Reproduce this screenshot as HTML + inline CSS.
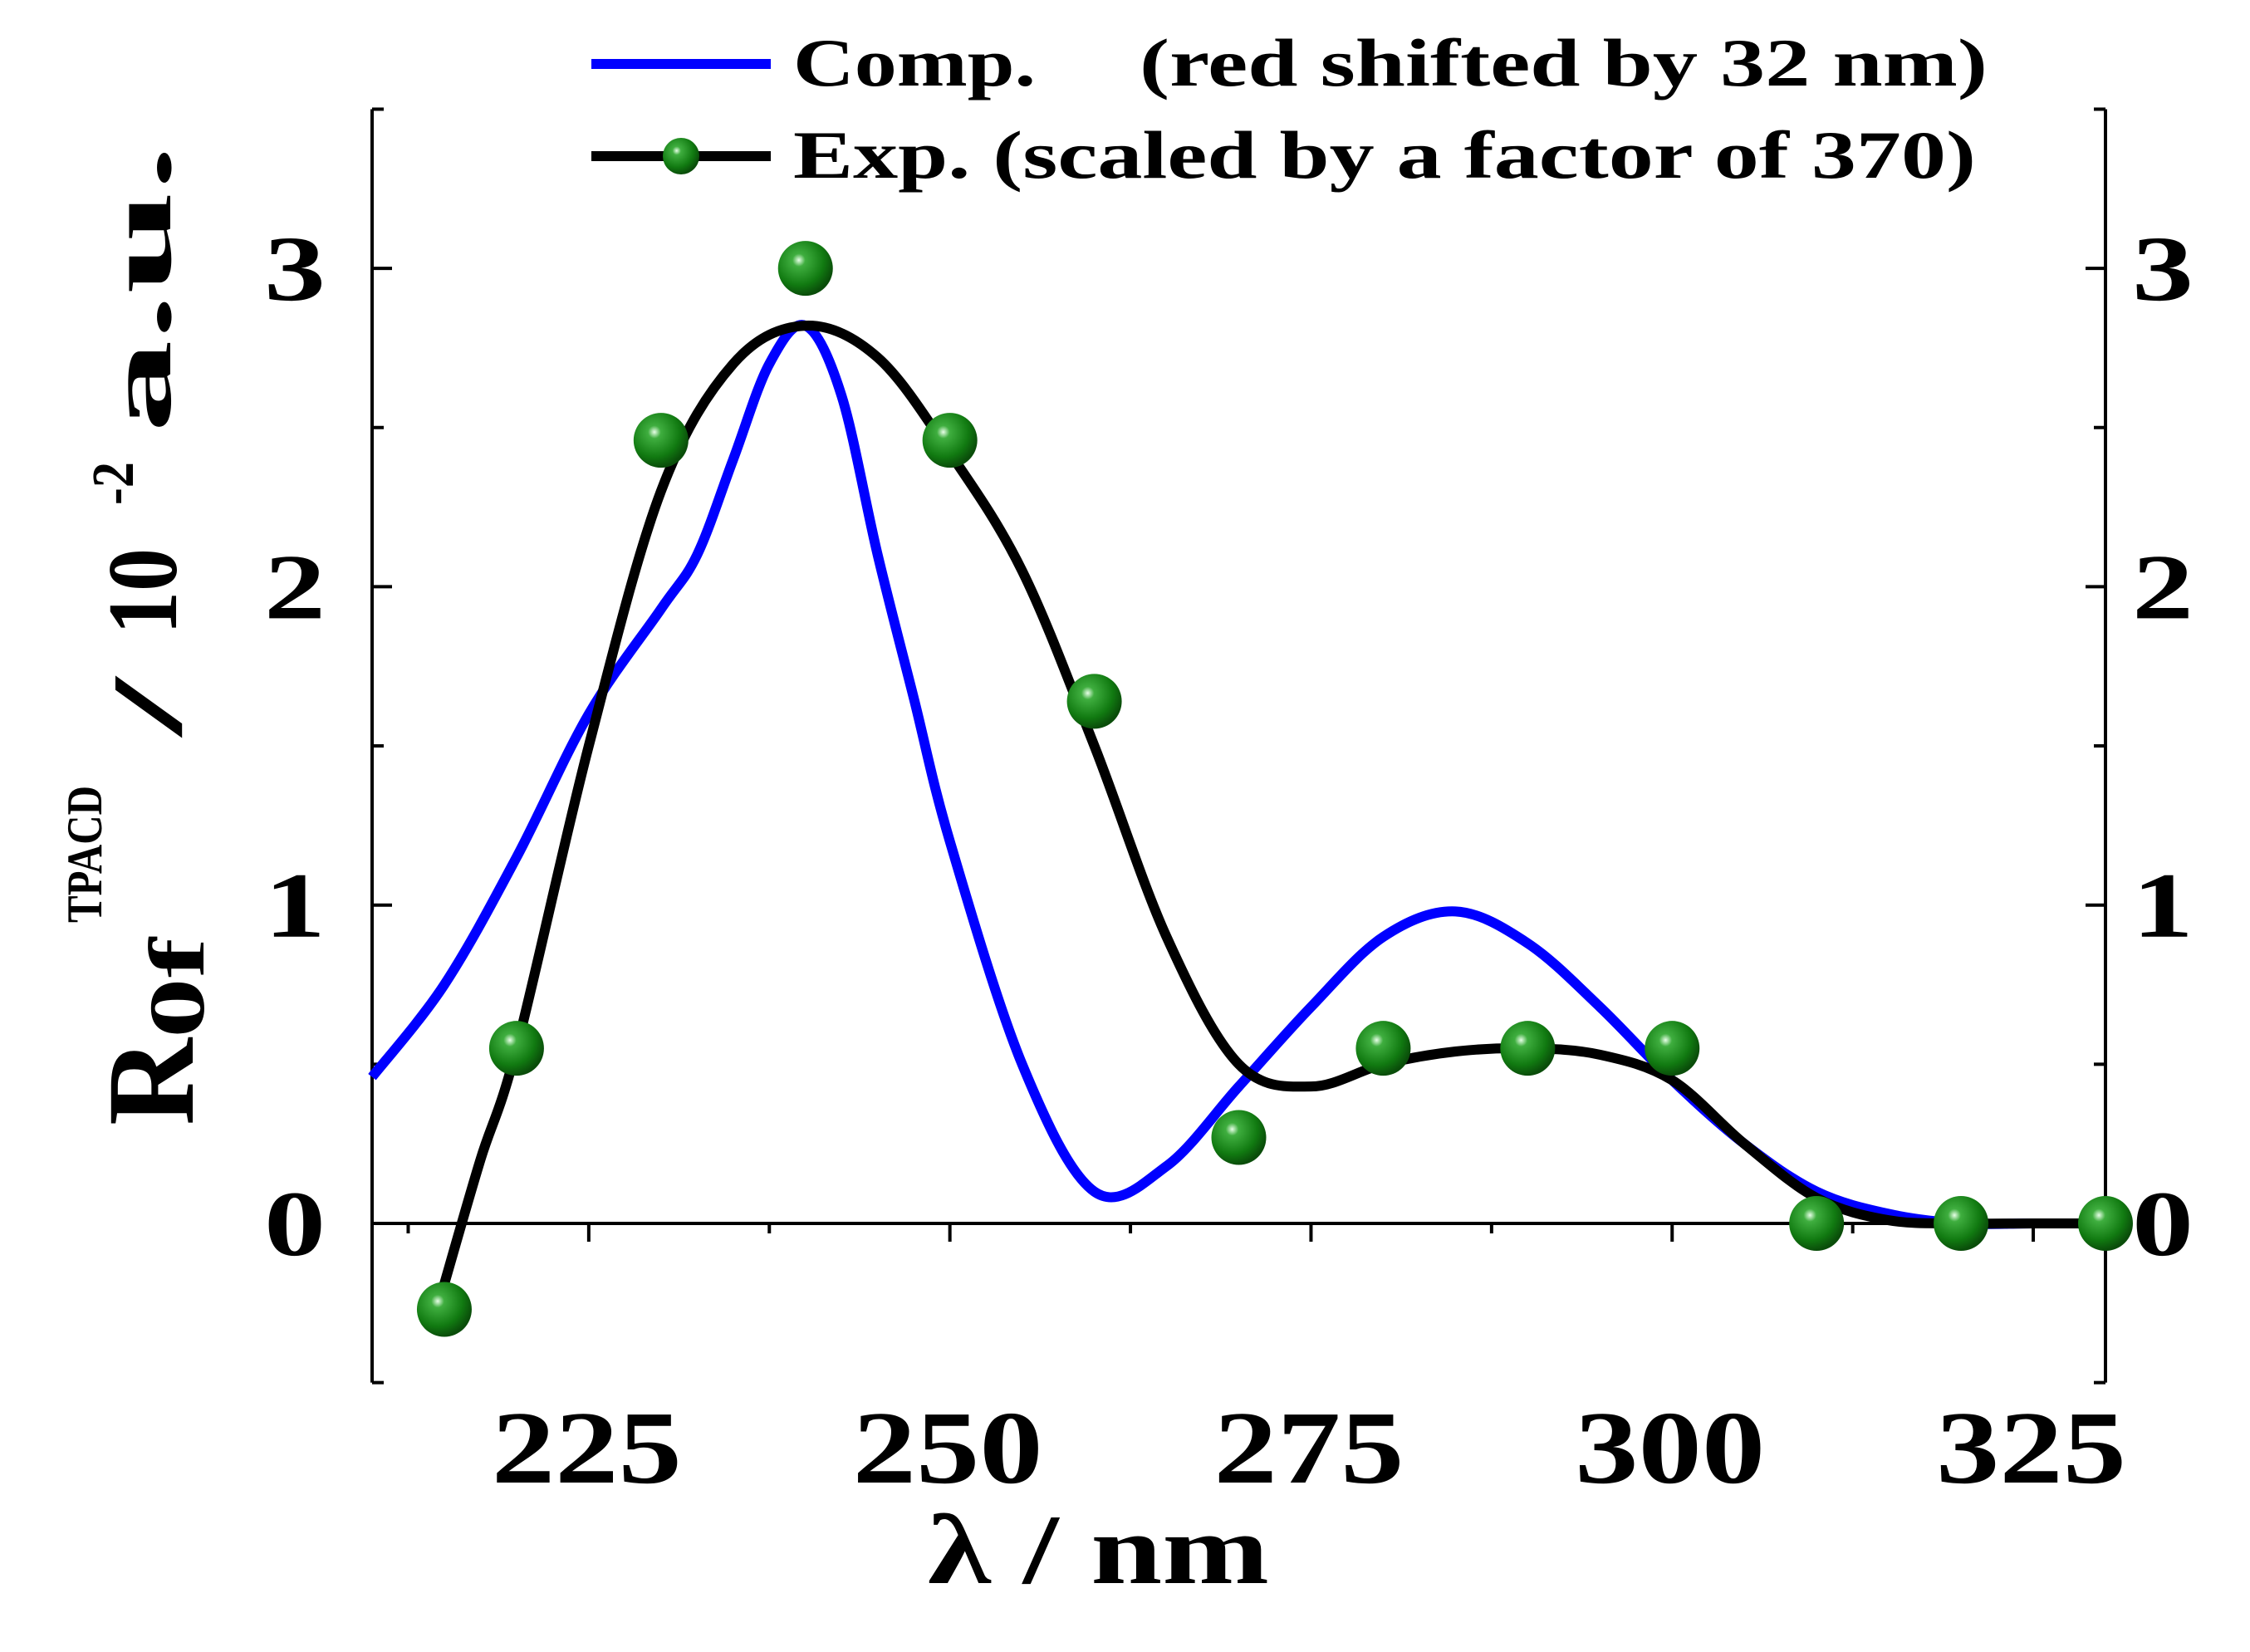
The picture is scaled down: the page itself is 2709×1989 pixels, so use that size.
<!DOCTYPE html>
<html><head><meta charset="utf-8"><style>
html,body{margin:0;padding:0;background:#fff;}
svg{display:block;}
text{font-family:"Liberation Serif",serif;font-weight:bold;fill:#000;}
</style></head><body>
<svg id="chart" width="2709" height="1989" viewBox="0 0 2709 1989" xmlns="http://www.w3.org/2000/svg">
<defs>
<radialGradient id="ball" cx="0.38" cy="0.35" r="0.65">
<stop offset="0" stop-color="#e8ffe8"/><stop offset="0.18" stop-color="#3fae3f"/><stop offset="0.7" stop-color="#117a11"/><stop offset="1" stop-color="#0a4d0a"/>
</radialGradient>
</defs>
<g id="axes"></g>
<g id="series"></g>
<g id="legend">
<line x1="712" y1="77" x2="928" y2="77" stroke="#0000ff" stroke-width="12"/>
<text x="955" y="103" font-size="82" textLength="292" lengthAdjust="spacingAndGlyphs">Comp.</text>
<text x="1372" y="103" font-size="82" textLength="1021" lengthAdjust="spacingAndGlyphs">(red shifted by 32 nm)</text>
<line x1="712" y1="188" x2="928" y2="188" stroke="#000" stroke-width="12"/>
<circle cx="820" cy="188" r="22" fill="url(#ball)"/>
<text x="955" y="214" font-size="82" textLength="1424" lengthAdjust="spacingAndGlyphs">Exp. (scaled by a factor of 370)</text>
</g>
<text x="1117" y="1906" font-size="120" textLength="411" lengthAdjust="spacingAndGlyphs">λ / nm</text>
<g transform="rotate(-90)">
<text x="-1355" y="232" font-size="150" textLength="105" lengthAdjust="spacingAndGlyphs">R</text>
<text x="-1250" y="245" font-size="95" textLength="121" lengthAdjust="spacingAndGlyphs">0f</text>
<text x="-1111" y="122" font-size="60" textLength="165" lengthAdjust="spacingAndGlyphs">TPACD</text>
<text x="-886" y="218" font-size="120" textLength="70" lengthAdjust="spacingAndGlyphs">/</text>
<text x="-764" y="212" font-size="120" textLength="104" lengthAdjust="spacingAndGlyphs">10</text>
<text x="-608" y="160" font-size="72" textLength="52" lengthAdjust="spacingAndGlyphs">-2</text>
<text x="-521" y="205" font-size="108" textLength="347" lengthAdjust="spacingAndGlyphs">a.u.</text>
</g>
</svg>
<script>
const xTicks=[225,250,275,300,325];
const yTicks=[0,1,2,3];
const expX=[215,220,230,240,250,260,270,280,290,300,310,320,330];
const expY=[-0.27,0.55,2.46,3.0,2.46,1.64,0.27,0.55,0.55,0.55,0,0,0];
const fitX=[215,217.5,220,225,230,235,240,245,250,255,260,265,270,275,280,285,290,295,300,305,310,315,320,325,330];
const fitY=[-0.19,0.2,0.55,1.5,2.3,2.7,2.82,2.72,2.42,2.05,1.5,0.9,0.5,0.43,0.5,0.54,0.55,0.53,0.45,0.25,0.08,0.01,0,0,0];
const compX=[210,215,220,225,230,232.5,235,237.5,240,242.5,245,247.5,250,255,260,265,270,275,280,285,290,295,300,305,310,315,320,325,330];
const compY=[0.46,0.75,1.15,1.6,1.93,2.1,2.4,2.7,2.82,2.6,2.1,1.65,1.2,0.5,0.1,0.18,0.43,0.68,0.9,0.98,0.88,0.68,0.45,0.25,0.1,0.03,0,0,0];

const X0=448,X1=2535,Y0=1473,YU=383.3;
const sx=v=>X0+(v-210)/120*(X1-X0);
const sy=v=>Y0-v*YU;
const NS="http://www.w3.org/2000/svg";
function mk(tag,attrs,parent){const e=document.createElementNS(NS,tag);for(const k in attrs)e.setAttribute(k,attrs[k]);parent.appendChild(e);return e;}
const axes=document.getElementById('axes'),series=document.getElementById('series');
const yTop=sy(3.5),yBot=sy(-0.5);
let e;
e=mk('line',{x1:X0,y1:yTop,x2:X0,y2:yBot,stroke:'#000','stroke-width':4},axes);


e=mk('line',{x1:X1,y1:yTop,x2:X1,y2:yBot,stroke:'#000','stroke-width':4},axes);


e=mk('line',{x1:X0,y1:sy(0),x2:X1,y2:sy(0),stroke:'#000','stroke-width':4},axes);


for(let v=-0.5;v<=3.5;v+=0.5){
 const major=Number.isInteger(v);const len=major?24:14;
 mk('line',{x1:X0,y1:sy(v),x2:X0+len,y2:sy(v),stroke:'#000','stroke-width':4},axes);
 mk('line',{x1:X1,y1:sy(v),x2:X1-len,y2:sy(v),stroke:'#000','stroke-width':4},axes);
}
yTicks.forEach(v=>{
 e=mk('text',{x:392,y:sy(v)+38,'font-size':112,'text-anchor':'end',textLength:74,lengthAdjust:'spacingAndGlyphs'},axes);e.textContent=v;
 
 
 e=mk('text',{x:2567,y:sy(v)+38,'font-size':112,textLength:74,lengthAdjust:'spacingAndGlyphs'},axes);e.textContent=v;
 
 
});
for(let v=212.5;v<=330;v+=12.5){
 const major=(v%25===0);
 mk('line',{x1:sx(v),y1:sy(0),x2:sx(v),y2:sy(0)+(major?22:12),stroke:'#000','stroke-width':4},axes);
}
xTicks.forEach(v=>{
 e=mk('text',{x:sx(v)-117,y:1785,'font-size':125,textLength:229,lengthAdjust:'spacingAndGlyphs'},axes);e.textContent=v;
 
 
});
function smooth(xs,ys){
 const p=xs.map((x,i)=>[sx(x),sy(ys[i])]);
 let d='M'+p[0][0]+','+p[0][1];
 for(let i=0;i<p.length-1;i++){
  const a=p[Math.max(0,i-1)],b=p[i],c=p[i+1],dd=p[Math.min(p.length-1,i+2)];
  const c1=[b[0]+(c[0]-a[0])/6,b[1]+(c[1]-a[1])/6],c2=[c[0]-(dd[0]-b[0])/6,c[1]-(dd[1]-b[1])/6];
  d+=' C'+c1+' '+c2+' '+c;
 }
 return d;
}
e=mk('path',{d:smooth(compX,compY),fill:'none',stroke:'#0000ff','stroke-width':12,'stroke-linejoin':'round'},series);


e=mk('path',{d:smooth(fitX,fitY),fill:'none',stroke:'#000','stroke-width':12,'stroke-linejoin':'round'},series);


expX.forEach((x,i)=>{
 e=mk('circle',{cx:sx(x),cy:sy(expY[i]),r:33,fill:'url(#ball)'},series);
 
 
});
</script>
</body></html>
